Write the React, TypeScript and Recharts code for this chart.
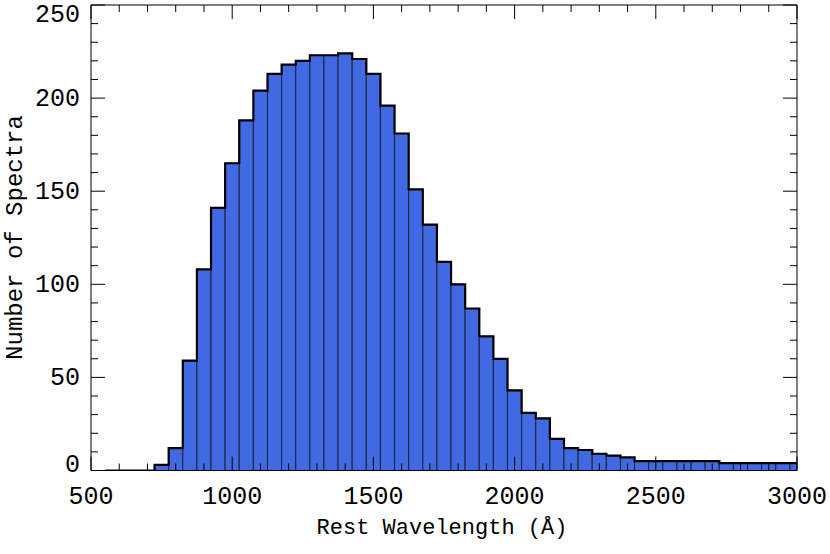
import { ComposedChart, Bar, Line, XAxis, YAxis } from "recharts"

// histogram bins (bin centres, width 50 Å) and counts
const binCenters = [
  550, 600, 650, 700, 750, 800, 850, 900, 950, 1000,
  1050, 1100, 1150, 1200, 1250, 1300, 1350, 1400, 1450, 1500,
  1550, 1600, 1650, 1700, 1750, 1800, 1850, 1900, 1950, 2000,
  2050, 2100, 2150, 2200, 2250, 2300, 2350, 2400, 2450, 2500,
  2550, 2600, 2650, 2700, 2750, 2800, 2850, 2900, 2950, 3000,
]
const counts = [
  0, 0, 0, 0, 3, 12, 59, 108, 141, 165,
  188, 204, 213, 218, 220, 223, 223, 224, 221, 213,
  196, 181, 151, 132, 112, 100, 87, 72, 60, 43,
  31, 28, 17, 12, 11, 9, 8, 7, 5, 5,
  5, 5, 5, 5, 4, 4, 4, 4, 4, 4,
]

const xTicks = [
  500, 600, 700, 800, 900, 1000, 1100, 1200, 1300, 1400, 1500, 1600, 1700,
  1800, 1900, 2000, 2100, 2200, 2300, 2400, 2500, 2600, 2700, 2800, 2900, 3000,
]
const xMajor = [500, 1000, 1500, 2000, 2500, 3000]
const yTicks = [
  0, 10, 20, 30, 40, 50, 60, 70, 80, 90, 100, 110, 120, 130, 140, 150, 160,
  170, 180, 190, 200, 210, 220, 230, 240, 250,
]
const yMajor = [0, 50, 100, 150, 200, 250]

const data = binCenters.map((x, i) => ({
  x,
  count: counts[i],
  bar: counts[i] > 0 ? counts[i] : null,
}))

const FONT = "'Liberation Mono', 'DejaVu Sans Mono', monospace"
const MAJOR = 14
const MINOR = 7
const W = 830
const H = 554
const MARGIN = { top: 4, right: 32, bottom: 23.5, left: 11 }

function BottomTick({ x, y, payload }: any) {
  const major = xMajor.includes(payload.value)
  return (
    <g>
      <line x1={x} x2={x} y1={y} y2={y - (major ? MAJOR : MINOR)} stroke="#000" strokeWidth={1} />
      {major && (
        <text x={x} y={y + 33} textAnchor="middle" fontFamily={FONT} fontSize={25} fill="#000">
          {payload.value}
        </text>
      )}
    </g>
  )
}

function TopTick({ x, y, payload }: any) {
  const major = xMajor.includes(payload.value)
  return <line x1={x} x2={x} y1={y} y2={y + (major ? MAJOR : MINOR)} stroke="#000" strokeWidth={1} />
}

function LeftTick({ x, y, payload }: any) {
  const v = payload.value
  const major = yMajor.includes(v)
  // end labels are pulled inside the axis range
  const base = v === 250 ? y + 16.5 : v === 0 ? y + 1 : y + 8
  return (
    <g>
      <line x1={x} x2={x + (major ? MAJOR : MINOR)} y1={y} y2={y} stroke="#000" strokeWidth={1} />
      {major && (
        <text x={x - 11} y={base} textAnchor="end" fontFamily={FONT} fontSize={25} fill="#000">
          {v}
        </text>
      )}
    </g>
  )
}

function RightTick({ x, y, payload }: any) {
  const major = yMajor.includes(payload.value)
  return <line x1={x} x2={x - (major ? MAJOR : MINOR)} y1={y} y2={y} stroke="#000" strokeWidth={1} />
}

const xTitle = () => (
  <text x={442} y={533.5} textAnchor="middle" fontFamily={FONT} fontSize={22} fill="#000">
    Rest Wavelength (Å)
  </text>
)

const yTitle = () => (
  <text
    x={21.5}
    y={237.5}
    transform="rotate(-90, 21.5, 237.5)"
    textAnchor="middle"
    fontFamily={FONT}
    fontSize={24}
    fill="#000"
  >
    Number of Spectra
  </text>
)

// same four axes in both layers; only the overlay draws them
function axes(show: boolean) {
  const line = show ? { stroke: "#000" } : false
  return [
    <XAxis
      key="xb"
      dataKey="x"
      type="number"
      domain={[500, 3000]}
      ticks={xTicks}
      interval={0}
      allowDataOverflow
      height={60}
      tickSize={0}
      tickMargin={0}
      tick={show ? BottomTick : false}
      axisLine={line}
      label={show ? { content: xTitle } : undefined}
    />,
    <XAxis
      key="xt"
      xAxisId="top"
      orientation="top"
      dataKey="x"
      type="number"
      domain={[500, 3000]}
      ticks={xTicks}
      interval={0}
      allowDataOverflow
      height={1}
      tickSize={0}
      tickMargin={0}
      tick={show ? TopTick : false}
      axisLine={line}
    />,
    <YAxis
      key="yl"
      type="number"
      domain={[0, 250]}
      ticks={yTicks}
      interval={0}
      allowDataOverflow
      width={80}
      tickSize={0}
      tickMargin={0}
      tick={show ? LeftTick : false}
      axisLine={line}
      label={show ? { content: yTitle } : undefined}
    />,
    <YAxis
      key="yr"
      yAxisId="right"
      orientation="right"
      type="number"
      domain={[0, 250]}
      ticks={yTicks}
      interval={0}
      allowDataOverflow
      width={1}
      tickSize={0}
      tickMargin={0}
      tick={show ? RightTick : false}
      axisLine={line}
    />,
  ]
}

export default function App() {
  return (
    <div style={{ position: "absolute", left: 0, top: 0, width: W, height: H, background: "#fff" }}>
      <div style={{ position: "absolute", left: 0, top: 0 }}>
        <ComposedChart width={W} height={H} data={data} margin={MARGIN} barCategoryGap={0} barGap={0}>
          {axes(false)}
          <Bar
            dataKey="bar"
            fill="#4169E1"
            stroke="#1b2440"
            strokeWidth={1}
            isAnimationActive={false}
          />
          <Line
            dataKey="count"
            type="step"
            stroke="#000"
            strokeWidth={2.2}
            dot={false}
            activeDot={false}
            isAnimationActive={false}
          />
        </ComposedChart>
      </div>
      {/* frame and inward ticks drawn on top of the bars */}
      <div style={{ position: "absolute", left: 0, top: 0, pointerEvents: "none" }}>
        <ComposedChart width={W} height={H} data={data} margin={MARGIN}>
          {axes(true)}
        </ComposedChart>
      </div>
    </div>
  )
}
